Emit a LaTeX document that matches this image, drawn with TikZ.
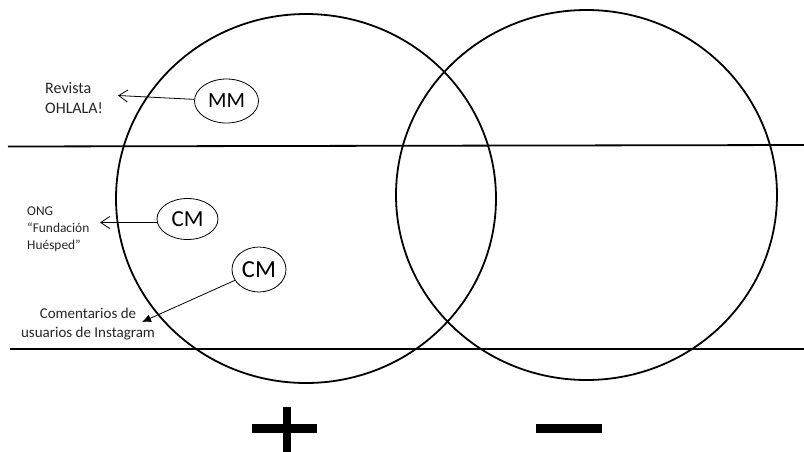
\documentclass[tikz,border=0pt]{standalone}
\usepackage{fontspec}
\setmainfont{Carlito}
\usetikzlibrary{shapes.geometric,arrows.meta}

\tikzset{
  band/.style={line width=1.8pt},
  set/.style={line width=1.8pt},
  tag/.style={draw, ellipse, line width=0.8pt, inner sep=0pt},
  label/.style={inner sep=0pt, text=black!85},
  openarrow/.style={line width=0.8pt, -{Straight Barb[length=9pt,width=12pt,line width=0.8pt]}},
  solidarrow/.style={line width=0.8pt, -{Latex[length=9pt,width=8pt]}},
  sign/.style={line width=9pt}
}

\begin{document}
\begin{tikzpicture}[x=1pt,y=-1pt]
  \useasboundingbox (0,0) rectangle (804,451);

  % the two sets
  \draw[set] (306,198.5) ellipse [x radius=190, y radius=184.5];
  \draw[set] (586.5,195) ellipse [x radius=190.5, y radius=185];

  % horizontal bands
  \draw[band] (8,146.5) -- (804,145);
  \draw[band] (10,349) -- (804,349);

  % labels on the left
  \node[label, anchor=west, align=left, font=\fontsize{16}{20}\selectfont] (rev) at (45,98) {Revista\\OHLALA!};
  \node[label, anchor=west, align=left, font=\fontsize{13.4}{17}\selectfont] (ong) at (27,229) {ONG\\“Fundación\\Huésped”};
  \node[label, align=center, font=\fontsize{15}{19}\selectfont] (com) at (88,324) {Comentarios de\\usuarios de Instagram};

  % tags inside the left set
  \node[tag, minimum width=64pt, minimum height=44pt, font=\fontsize{21.6}{24}\selectfont] (mm) at (226.5,101) {MM};
  \node[tag, minimum width=61pt, minimum height=41pt, font=\fontsize{23}{26}\selectfont] (cm1) at (187.5,219) {CM};
  \node[tag, minimum width=54pt, minimum height=45pt, font=\fontsize{24.5}{27}\selectfont] (cm2) at (259,269.5) {CM};

  % arrow ends next to the labels
  \coordinate (revtip) at (118,95.5);
  \coordinate (ongtip) at (100,222.5);
  \coordinate (comtip) at (142,322);

  \draw[openarrow] (mm) -- (revtip);
  \draw[openarrow] (cm1.west |- ongtip) -- (ongtip);
  \draw[solidarrow] (cm2) -- (comtip);

  % plus and minus signs
  \draw[sign] (252,428) -- (317,428);
  \draw[line width=8pt] (287,407) -- (287,452);
  \draw[sign] (536,428) -- (602,428);
\end{tikzpicture}
\end{document}
